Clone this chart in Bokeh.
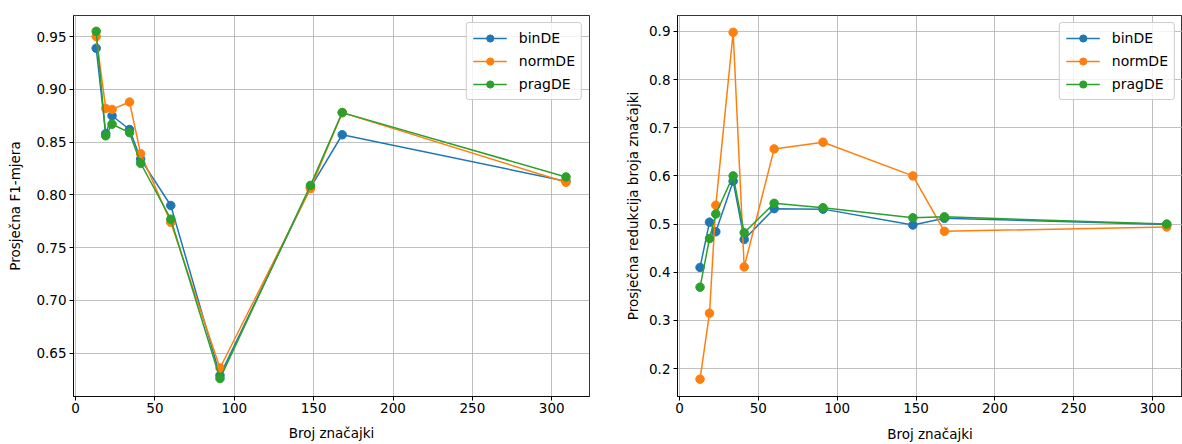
from bokeh.plotting import figure
from bokeh.layouts import row
from bokeh.models import FixedTicker, Range1d, Legend, LegendItem, CustomJSTickFormatter
from bokeh.embed import file_html
from bokeh.resources import INLINE

# ---- data ----
features = [13, 19, 23, 34, 41, 60, 91, 148, 168, 309]
series_names = ["binDE", "normDE", "pragDE"]

f1_bin = [0.939, 0.858, 0.875, 0.862, 0.834, 0.790, 0.629, 0.807, 0.857, 0.813]
f1_norm = [0.950, 0.882, 0.881, 0.888, 0.839, 0.774, 0.636, 0.806, 0.878, 0.812]
f1_prag = [0.955, 0.856, 0.867, 0.859, 0.830, 0.777, 0.626, 0.809, 0.878, 0.817]

red_bin = [0.410, 0.504, 0.484, 0.589, 0.468, 0.532, 0.531, 0.498, 0.512, 0.499]
red_norm = [0.178, 0.315, 0.539, 0.898, 0.411, 0.656, 0.670, 0.600, 0.485, 0.494]
red_prag = [0.369, 0.470, 0.521, 0.600, 0.482, 0.543, 0.534, 0.513, 0.515, 0.500]

x_ticks = [0, 50, 100, 150, 200, 250, 300]
left_y_ticks = [0.65, 0.70, 0.75, 0.80, 0.85, 0.90, 0.95]
right_y_ticks = [0.2, 0.3, 0.4, 0.5, 0.6, 0.7, 0.8, 0.9]

colors = ["#1f77b4", "#ff7f0e", "#2ca02c"]
FONT = "DejaVu Sans"


def style(p, yticks, ylabel, yfmt, ylabel_standoff, xlabel_standoff):
    p.xaxis.ticker = FixedTicker(ticks=x_ticks)
    p.yaxis.ticker = FixedTicker(ticks=yticks)
    p.xgrid.ticker = FixedTicker(ticks=x_ticks)
    p.ygrid.ticker = FixedTicker(ticks=yticks)
    p.yaxis.formatter = CustomJSTickFormatter(code="return tick.toFixed(%d);" % yfmt)
    for g in (p.xgrid, p.ygrid):
        g.grid_line_color = "#b0b0b0"
        g.grid_line_width = 0.8
    for ax in (p.xaxis, p.yaxis):
        ax.major_label_text_font = FONT
        ax.major_label_text_font_size = "13.5px"
        ax.major_label_text_color = "#000000"
        ax.axis_label_text_font = FONT
        ax.axis_label_text_font_size = "13.5px"
        ax.axis_label_text_font_style = "normal"
        ax.axis_label_text_color = "#000000"
        ax.minor_tick_line_color = None
        ax.major_tick_out = 4
        ax.major_tick_in = 0
        ax.major_tick_line_color = "#000000"
        ax.axis_line_color = "#000000"
        ax.axis_line_width = 0.8
    p.xaxis.major_label_standoff = 2
    p.xaxis.axis_label_standoff = xlabel_standoff
    p.yaxis.major_label_standoff = 3
    p.yaxis.axis_label_standoff = ylabel_standoff
    p.xaxis.axis_label = "Broj značajki"
    p.yaxis.axis_label = ylabel
    p.outline_line_color = "#000000"
    p.outline_line_width = 0.8
    p.background_fill_color = "white"
    p.border_fill_color = "white"


def add_series(p, ys_list):
    items = []
    for name, ys, c in zip(series_names, ys_list, colors):
        l = p.line(features, ys, line_color=c, line_width=1.5)
        s = p.scatter(features, ys, size=8.5, fill_color=c, line_color=c)
        items.append(LegendItem(label=name, renderers=[l, s]))
    leg = Legend(items=items, location="top_right")
    leg.label_text_font = FONT
    leg.label_text_font_size = "14px"
    leg.label_text_color = "#000000"
    leg.border_line_color = "#cccccc"
    leg.border_line_alpha = 1
    leg.border_radius = 3
    leg.background_fill_alpha = 0.8
    leg.glyph_width = 34
    leg.glyph_height = 18
    leg.label_height = 18
    leg.spacing = 5
    leg.padding = 6
    leg.margin = 7
    leg.label_standoff = 12
    p.add_layout(leg)


p1 = figure(width=622, height=444, output_backend="svg", toolbar_location=None,
            x_range=Range1d(-1.3, 323.8), y_range=Range1d(0.609, 0.970),
            min_border_left=73, min_border_right=33, min_border_top=15, min_border_bottom=45)
style(p1, left_y_ticks, "Prosječna F1-mjera", 2, 10, 9)
add_series(p1, [f1_bin, f1_norm, f1_prag])

p2 = figure(width=560, height=444, output_backend="svg", toolbar_location=None,
            x_range=Range1d(-1.3, 319.0), y_range=Range1d(0.142, 0.933),
            min_border_left=55, min_border_right=0, min_border_top=13, min_border_bottom=48)
style(p2, right_y_ticks, "Prosječna redukcija broja značajki", 1, 5, 10)
add_series(p2, [red_bin, red_norm, red_prag])

layout = row(p1, p2)
open("out.html", "w").write(file_html(layout, INLINE))
